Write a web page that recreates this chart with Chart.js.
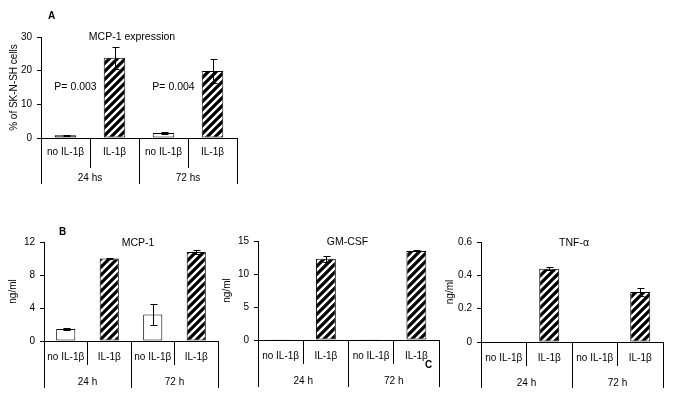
<!DOCTYPE html>
<html>
<head>
<meta charset="utf-8">
<script src="https://cdn.jsdelivr.net/npm/chart.js@4"></script>
<style>
  body { margin: 0; background: #fff; font-family: 'Liberation Sans', Arial, sans-serif; }
  #wrap { position: relative; width: 685px; height: 407px; overflow: hidden; }
  .box { position: absolute; }
  .tag { position: absolute; font-weight: bold; font-size: 10px; color: #000; }
</style>
</head>
<body>
<div id="wrap">
  <div class="box" style="left:0px;top:0px;width:245px;height:190px"><canvas id="chartA"></canvas></div>
  <div class="box" style="left:0px;top:200px;width:225px;height:195px"><canvas id="chartMcp"></canvas></div>
  <div class="box" style="left:215px;top:200px;width:232px;height:195px"><canvas id="chartGm"></canvas></div>
  <div class="box" style="left:440px;top:200px;width:235px;height:195px"><canvas id="chartTnf"></canvas></div>
  <div class="tag" style="left:48px;top:10px">A</div>
  <div class="tag" style="left:59px;top:226px">B</div>
  <div class="tag" style="left:425px;top:359px">C</div>
</div>
<script>
// categories
const conditions = ['no IL-1β', 'IL-1β', 'no IL-1β', 'IL-1β'];
const timesA = ['24 hs', '72 hs'];
const timesB = ['24 h', '72 h'];

// A: % of SK-N-SH cells expressing MCP-1
const mcpExprMean = [0.8, 23.8, 1.5, 19.9];
const mcpExprErr = [0.2, 3.2, 0.35, 3.6];
const pLabels = ['P= 0.003', 'P= 0.004'];

// B: secreted protein, ng/ml
const mcp1Mean = [1.45, 10.0, 3.2, 10.8];
const mcp1Err = [0.1, 0.05, 1.3, 0.2];
const gmcsfMean = [0.1, 12.3, 0.1, 13.5];
const gmcsfErr = [0, 0.45, 0, 0.08];
const tnfMean = [0, 0.44, 0.003, 0.3];
const tnfErr = [0, 0.008, 0, 0.025];

const FONT = "'Liberation Sans', Arial, sans-serif";

// diagonal hatch
function hatch() {
    const c = document.createElement('canvas');
    c.width = 8; c.height = 8;
    const g = c.getContext('2d');
    g.fillStyle = '#fff';
    g.fillRect(0, 0, 8, 8);
    g.strokeStyle = '#000';
    g.lineWidth = 3.2;
    g.beginPath();
    g.moveTo(-2, 10); g.lineTo(10, -2);
    g.moveTo(-6, 6); g.lineTo(6, -6);
    g.moveTo(2, 14); g.lineTo(14, 2);
    g.stroke();
    return g.createPattern(c, 'repeat');
}
const stripes = hatch();

const errorBars = {
    id: 'errorBars',
    afterDatasetsDraw(chart, args, opts) {
        const errs = opts.errors;
        if (!errs) return;
        const ctx = chart.ctx;
        const y = chart.scales.y;
        const vals = chart.data.datasets[0].data;
        ctx.save();
        ctx.strokeStyle = '#000';
        ctx.lineWidth = 1;
        chart.getDatasetMeta(0).data.forEach((bar, i) => {
            const e = errs[i];
            if (!e) return;
            const x = Math.round(bar.x) + 0.5;
            const top = Math.round(y.getPixelForValue(vals[i] + e)) + 0.5;
            const bot = Math.round(y.getPixelForValue(Math.max(0, vals[i] - e))) + 0.5;
            ctx.beginPath();
            ctx.moveTo(x, top); ctx.lineTo(x, bot);
            ctx.moveTo(x - 3, top); ctx.lineTo(x + 4, top);
            ctx.moveTo(x - 3, bot); ctx.lineTo(x + 4, bot);
            ctx.stroke();
        });
        ctx.restore();
    }
};

const panelText = {
    id: 'panelText',
    afterDraw(chart, args, opts) {
        const ctx = chart.ctx;
        const a = chart.chartArea;
        ctx.save();
        ctx.fillStyle = '#000';
        ctx.textAlign = 'center';
        ctx.textBaseline = 'middle';
        ctx.font = '10.5px ' + FONT;
        ctx.fillText(opts.title, (a.left + a.right) / 2 + opts.dx, a.top + opts.dy);
        if (opts.notes) {
            ctx.font = '10.5px ' + FONT;
            opts.notes.forEach((t, k) => {
                const x = chart.scales.x.getPixelForValue(k * 2) + 10;
                ctx.fillText(t, x, chart.scales.y.getPixelForValue(opts.noteAt));
            });
        }
        ctx.restore();
    }
};

function makePanel(id, p) {
    return new Chart(document.getElementById(id), {
        type: 'bar',
        data: {
            labels: conditions,
            datasets: [{
                data: p.mean,
                backgroundColor: ['#fff', stripes, '#fff', stripes],
                borderColor: '#000',
                borderWidth: 1,
                borderSkipped: false,
                barPercentage: 0.44,
                categoryPercentage: 1
            }]
        },
        options: {
            responsive: true,
            maintainAspectRatio: false,
            animation: false,
            layout: { padding: p.pad },
            plugins: {
                legend: { display: false },
                tooltip: { enabled: false },
                errorBars: { errors: p.err },
                panelText: { title: p.title, dx: p.dx, dy: p.dy, notes: p.notes, noteAt: p.noteAt }
            },
            scales: {
                x: {
                    position: 'bottom',
                    offset: true,
                    grid: { offset: true, drawOnChartArea: false, drawTicks: true, tickLength: p.xH, color: '#000' },
                    border: { display: true, color: '#000' },
                    ticks: { padding: p.xPad, color: '#000', font: { family: FONT, size: 10 }, maxRotation: 0, autoSkip: false },
                    afterFit: s => { s.height = p.xH; }
                },
                x2: {
                    type: 'category',
                    position: 'bottom',
                    labels: p.groups,
                    offset: true,
                    grid: { offset: true, drawOnChartArea: false, drawTicks: true, tickLength: p.x2H, color: '#000' },
                    border: { display: false },
                    ticks: { padding: p.x2Pad, color: '#000', font: { family: FONT, size: 10 }, maxRotation: 0 },
                    afterFit: s => { s.height = p.x2H; }
                },
                y: {
                    min: 0,
                    max: p.max,
                    ticks: { stepSize: p.step, padding: 5, color: '#000', font: { family: FONT, size: 10 } },
                    grid: { drawOnChartArea: false, drawTicks: true, tickLength: 4, color: '#000' },
                    border: { display: true, color: '#000' },
                    title: { display: true, text: p.yTitle, color: '#000', padding: p.yTitlePad, font: { family: FONT, size: 10 } },
                    afterFit: s => { s.width = p.yW; }
                }
            }
        },
        plugins: [errorBars, panelText]
    });
}

makePanel('chartA', {
    mean: mcpExprMean, err: mcpExprErr, groups: timesA,
    max: 30, step: 10, yTitle: '% of SK-N-SH cells', yTitlePad: 8, yW: 41,
    pad: { left: 0, top: 37, right: 8, bottom: 6 },
    xH: 30, xPad: -22, x2H: 16, x2Pad: -12,
    title: 'MCP-1 expression', dx: -7, dy: 0, notes: pLabels, noteAt: 15
});

makePanel('chartMcp', {
    mean: mcp1Mean, err: mcp1Err, groups: timesB,
    max: 12, step: 4, yTitle: 'ng/ml', yTitlePad: 7, yW: 44,
    pad: { left: 0, top: 42, right: 7, bottom: 7 },
    xH: 24, xPad: -14, x2H: 23, x2Pad: -12,
    title: 'MCP-1', dx: 7, dy: 1
});

makePanel('chartGm', {
    mean: gmcsfMean, err: gmcsfErr, groups: timesB,
    max: 15, step: 5, yTitle: 'ng/ml', yTitlePad: 6, yW: 43,
    pad: { left: 0, top: 41, right: 8, bottom: 8 },
    xH: 24, xPad: -14, x2H: 23, x2Pad: -12,
    title: 'GM-CSF', dx: -1, dy: 1
});

makePanel('chartTnf', {
    mean: tnfMean, err: tnfErr, groups: timesB,
    max: 0.6, step: 0.2, yTitle: 'ng/ml', yTitlePad: 4, yW: 41,
    pad: { left: 0, top: 42, right: 12, bottom: 7 },
    xH: 24, xPad: -14, x2H: 22, x2Pad: -11,
    title: 'TNF-α', dx: 2, dy: 1
});
</script>
</body>
</html>
